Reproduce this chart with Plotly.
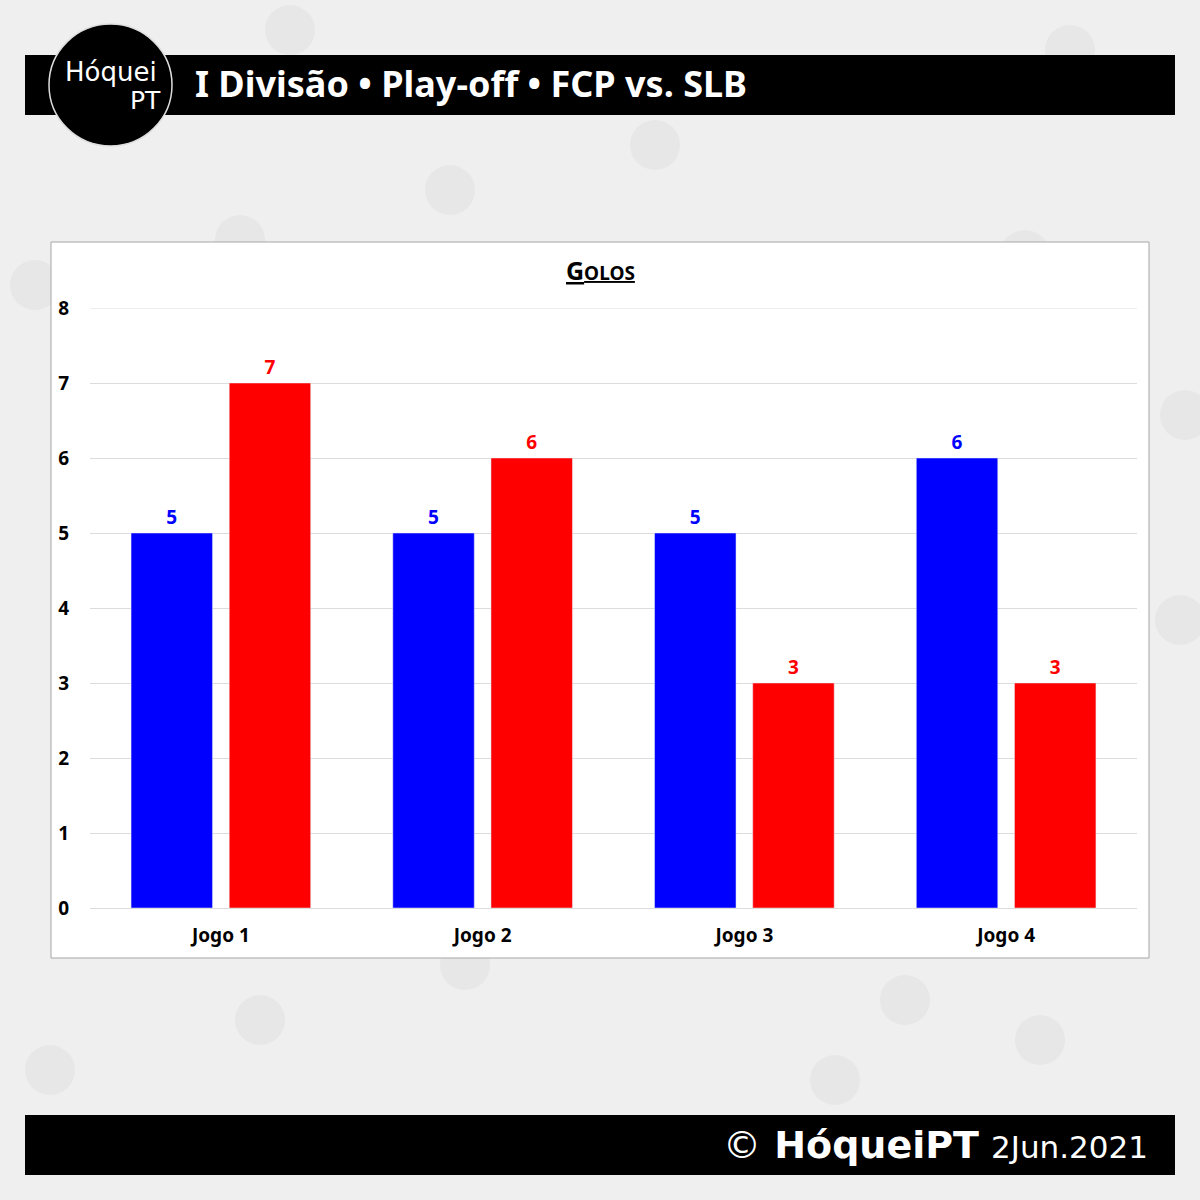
import plotly.graph_objects as go

# data
jogos = ["Jogo 1", "Jogo 2", "Jogo 3", "Jogo 4"]
fcp = [5, 5, 5, 6]
slb = [7, 6, 3, 3]
y_ticks = [0, 1, 2, 3, 4, 5, 6, 7, 8]

W = 1200
H = 1200
FONT = "Noto Sans"

def px(x):
    return x / W

def py_(y):
    return 1 - y / H

fig = go.Figure()

fig.add_trace(go.Bar(x=jogos, y=fcp, name="FCP", marker_color="#0000ff",
                     text=fcp, textposition="outside",
                     textfont=dict(color="#0000ff", size=19, family=FONT, weight="bold"),
                     cliponaxis=False))
fig.add_trace(go.Bar(x=jogos, y=slb, name="SLB", marker_color="#ff0000",
                     text=slb, textposition="outside",
                     textfont=dict(color="#ff0000", size=19, family=FONT, weight="bold"),
                     cliponaxis=False))

shapes = []
# faint watermark circles on background
for cx, cy in [(290, 30), (450, 190), (655, 145), (240, 240), (35, 285), (1070, 50),
               (1025, 255), (1185, 415), (1180, 620), (465, 965), (260, 1020),
               (50, 1070), (835, 1080), (1040, 1040), (905, 1000)]:
    shapes.append(dict(type="circle", xref="paper", yref="paper",
                       x0=px(cx - 25), x1=px(cx + 25), y0=py_(cy + 25), y1=py_(cy - 25),
                       fillcolor="#e7e7e7", line=dict(width=0), layer="below"))

# chart box
shapes.append(dict(type="rect", xref="paper", yref="paper",
                   x0=px(51), x1=px(1149), y0=py_(958), y1=py_(242),
                   fillcolor="white", line=dict(color="#a6a6a6", width=1), layer="below"))
# top gridline (plotly skips the one on the range edge)
shapes.append(dict(type="line", xref="x domain", yref="y",
                   x0=0, x1=1, y0=y_ticks[-1], y1=y_ticks[-1],
                   line=dict(color="#dcdcdc", width=1), layer="below"))
# header bar
shapes.append(dict(type="rect", xref="paper", yref="paper",
                   x0=px(25), x1=px(1175), y0=py_(115), y1=py_(55),
                   fillcolor="black", line=dict(width=0)))
# logo circle
shapes.append(dict(type="circle", xref="paper", yref="paper",
                   x0=px(49), x1=px(172), y0=py_(146), y1=py_(24),
                   fillcolor="black", line=dict(color="#dddddd", width=1.5)))
# footer bar
shapes.append(dict(type="rect", xref="paper", yref="paper",
                   x0=px(25), x1=px(1175), y0=py_(1175), y1=py_(1115),
                   fillcolor="black", line=dict(width=0)))

annotations = [
    dict(x=px(111), y=py_(72), xref="paper", yref="paper", text="Hóquei",
         showarrow=False, font=dict(family="DejaVu Sans", size=26, color="white"),
         xanchor="center", yanchor="middle"),
    dict(x=px(163), y=py_(100), xref="paper", yref="paper", text="PT",
         showarrow=False, font=dict(family="DejaVu Sans", size=25, color="white"),
         xanchor="right", yanchor="middle"),
    dict(x=px(193), y=py_(83), xref="paper", yref="paper",
         text="I Divisão • Play-off • FCP vs. SLB", showarrow=False,
         font=dict(family=FONT, size=36, color="white", weight="bold"),
         xanchor="left", yanchor="middle"),
    dict(x=px(600), y=py_(270), xref="paper", yref="paper",
         text="<u>G<span style='font-size:19px'>OLOS</span></u>", showarrow=False,
         font=dict(family=FONT, size=25, color="black", weight="bold"),
         xanchor="center", yanchor="middle"),
    dict(x=px(1150), y=py_(1145), xref="paper", yref="paper",
         text="©<b> HóqueiPT</b> <span style='font-size:31px'>2Jun.2021</span>",
         showarrow=False,
         font=dict(family="DejaVu Sans", size=38, color="white"),
         xanchor="right", yanchor="middle"),
]

fig.update_layout(
    width=W, height=H,
    margin=dict(l=0, r=0, t=0, b=0),
    paper_bgcolor="#efefef",
    plot_bgcolor="rgba(0,0,0,0)",
    showlegend=False,
    barmode="group",
    bargap=0.25,
    bargroupgap=0.17,
    font=dict(family=FONT, color="black"),
    shapes=shapes,
    annotations=annotations,
    xaxis=dict(domain=[px(90), px(1137)], showgrid=False, showline=False,
               ticks="", ticklabelstandoff=14,
               tickfont=dict(size=19, family=FONT, weight="bold"),
               automargin=False),
    yaxis=dict(domain=[py_(908), py_(308)], range=[0, 8], tickvals=y_ticks,
               showgrid=True, gridcolor="#dcdcdc", gridwidth=1,
               zeroline=True, zerolinecolor="#dcdcdc", zerolinewidth=1,
               showline=False, ticks="", ticklabelstandoff=20,
               tickfont=dict(size=19, family=FONT, weight="bold"),
               automargin=False),
)

fig.write_html("out.html", config={"displayModeBar": False},
               post_script="document.body.style.margin='0';")
